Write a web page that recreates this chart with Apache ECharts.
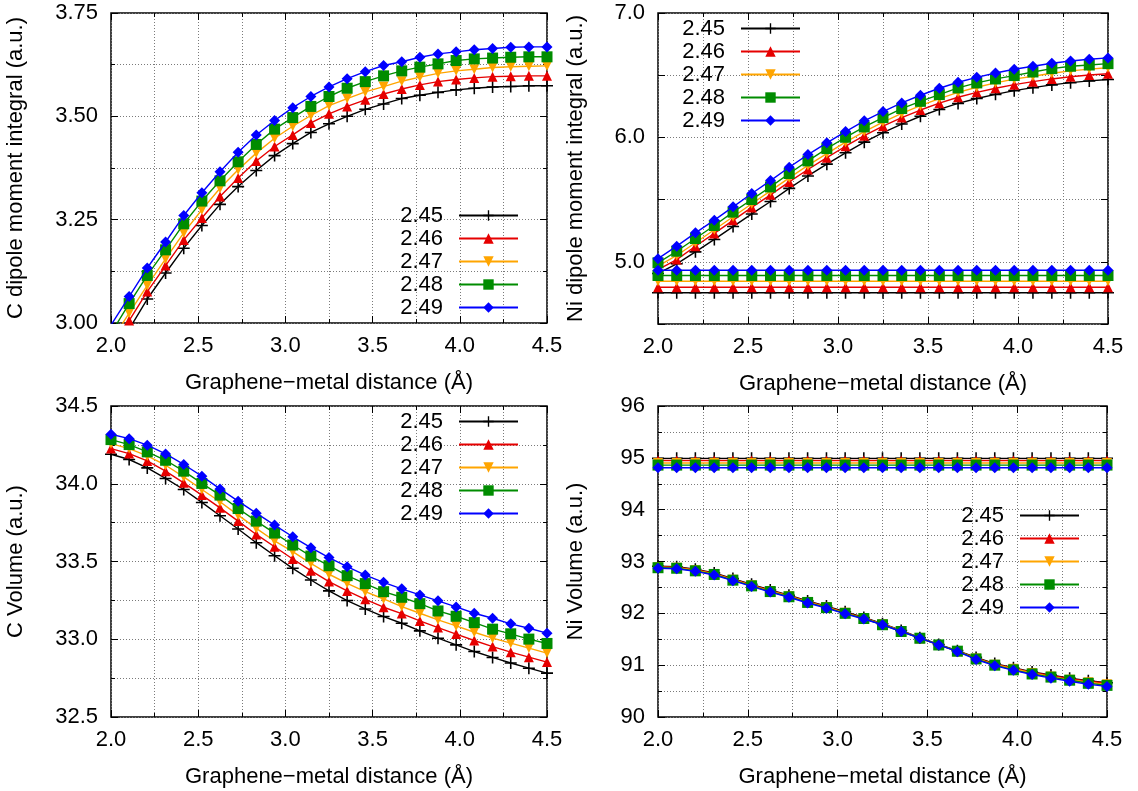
<!DOCTYPE html>
<html>
<head>
<meta charset="utf-8">
<script src="https://cdn.jsdelivr.net/npm/echarts@6/dist/echarts.min.js"></script>
<style>
  html, body { margin: 0; padding: 0; background: #ffffff; }
  #chart { width: 1138px; height: 791px; }
</style>
</head>
<body>
<div id="chart"></div>
<script>
// Graphene–metal distance grid (Å)
const distance = [2.000, 2.104, 2.208, 2.313, 2.417, 2.521, 2.625, 2.729, 2.833, 2.938, 3.042, 3.146, 3.250,
                  3.354, 3.458, 3.563, 3.667, 3.771, 3.875, 3.979, 4.083, 4.188, 4.292, 4.396, 4.500];

// Lattice constants (legend entries)
const latticeNames = ['2.45', '2.46', '2.47', '2.48', '2.49'];

// C dipole moment integral (a.u.)
const cDipole245 = [2.915, 2.985, 3.058, 3.121, 3.181, 3.236, 3.287, 3.330, 3.369, 3.405, 3.434, 3.461, 3.482, 3.500, 3.517, 3.530, 3.543, 3.551, 3.558, 3.564, 3.568, 3.571, 3.572, 3.574, 3.574];
const cDipole246 = [2.935, 3.006, 3.076, 3.139, 3.201, 3.254, 3.306, 3.351, 3.392, 3.427, 3.455, 3.484, 3.506, 3.524, 3.540, 3.554, 3.566, 3.576, 3.584, 3.589, 3.593, 3.596, 3.597, 3.598, 3.598];
const cDipole247 = [2.955, 3.024, 3.091, 3.155, 3.218, 3.274, 3.326, 3.371, 3.411, 3.447, 3.476, 3.502, 3.526, 3.543, 3.559, 3.572, 3.585, 3.595, 3.604, 3.610, 3.614, 3.618, 3.620, 3.621, 3.622];
const cDipole248 = [2.975, 3.047, 3.115, 3.177, 3.240, 3.295, 3.344, 3.390, 3.432, 3.469, 3.497, 3.524, 3.548, 3.568, 3.584, 3.598, 3.610, 3.619, 3.627, 3.635, 3.639, 3.641, 3.643, 3.644, 3.644];
const cDipole249 = [2.995, 3.064, 3.133, 3.196, 3.260, 3.315, 3.366, 3.413, 3.455, 3.490, 3.521, 3.548, 3.571, 3.591, 3.608, 3.623, 3.632, 3.643, 3.651, 3.656, 3.661, 3.664, 3.667, 3.668, 3.668];

// Ni dipole moment integral (a.u.): distance-dependent branch
const niDipole245 = [4.906, 4.984, 5.080, 5.180, 5.283, 5.385, 5.485, 5.590, 5.690, 5.785, 5.876, 5.962, 6.038, 6.107, 6.170, 6.225, 6.273, 6.313, 6.346, 6.376, 6.400, 6.422, 6.440, 6.454, 6.465];
const niDipole246 = [4.938, 5.018, 5.125, 5.228, 5.333, 5.437, 5.538, 5.642, 5.742, 5.837, 5.929, 6.014, 6.090, 6.159, 6.220, 6.275, 6.323, 6.362, 6.395, 6.424, 6.448, 6.470, 6.488, 6.502, 6.512];
const niDipole247 = [4.965, 5.051, 5.153, 5.258, 5.362, 5.467, 5.570, 5.675, 5.775, 5.870, 5.962, 6.047, 6.123, 6.193, 6.255, 6.312, 6.362, 6.403, 6.438, 6.468, 6.492, 6.516, 6.535, 6.549, 6.560];
const niDipole248 = [4.992, 5.085, 5.187, 5.292, 5.399, 5.501, 5.602, 5.710, 5.811, 5.910, 6.001, 6.084, 6.159, 6.232, 6.290, 6.344, 6.398, 6.438, 6.470, 6.497, 6.526, 6.553, 6.572, 6.582, 6.593];
const niDipole249 = [5.025, 5.126, 5.233, 5.335, 5.442, 5.549, 5.653, 5.760, 5.862, 5.956, 6.047, 6.133, 6.208, 6.277, 6.339, 6.395, 6.443, 6.483, 6.518, 6.548, 6.572, 6.596, 6.614, 6.628, 6.639];
// Ni dipole moment integral (a.u.): bulk reference branch
const niDipoleBulk245 = [4.751, 4.751, 4.751, 4.751, 4.751, 4.751, 4.751, 4.751, 4.751, 4.751, 4.751, 4.751, 4.751, 4.751, 4.751, 4.751, 4.751, 4.751, 4.751, 4.751, 4.751, 4.751, 4.751, 4.751, 4.751];
const niDipoleBulk246 = [4.796, 4.796, 4.796, 4.796, 4.796, 4.796, 4.796, 4.796, 4.796, 4.796, 4.796, 4.796, 4.796, 4.796, 4.796, 4.796, 4.796, 4.796, 4.796, 4.796, 4.796, 4.796, 4.796, 4.796, 4.796];
const niDipoleBulk247 = [4.844, 4.844, 4.844, 4.844, 4.844, 4.844, 4.844, 4.844, 4.844, 4.844, 4.844, 4.844, 4.844, 4.844, 4.844, 4.844, 4.844, 4.844, 4.844, 4.844, 4.844, 4.844, 4.844, 4.844, 4.844];
const niDipoleBulk248 = [4.890, 4.890, 4.890, 4.890, 4.890, 4.890, 4.890, 4.890, 4.890, 4.890, 4.890, 4.890, 4.890, 4.890, 4.890, 4.890, 4.890, 4.890, 4.890, 4.890, 4.890, 4.890, 4.890, 4.890, 4.890];
const niDipoleBulk249 = [4.932, 4.932, 4.932, 4.932, 4.932, 4.932, 4.932, 4.932, 4.932, 4.932, 4.932, 4.932, 4.932, 4.932, 4.932, 4.932, 4.932, 4.932, 4.932, 4.932, 4.932, 4.932, 4.932, 4.932, 4.932];

// C volume (a.u.)
const cVolume245 = [34.190, 34.156, 34.102, 34.034, 33.963, 33.880, 33.794, 33.709, 33.621, 33.537, 33.456, 33.381, 33.311, 33.249, 33.195, 33.146, 33.103, 33.054, 33.007, 32.964, 32.921, 32.883, 32.847, 32.814, 32.782];
const cVolume246 = [34.226, 34.194, 34.147, 34.081, 34.006, 33.927, 33.845, 33.760, 33.674, 33.595, 33.516, 33.441, 33.371, 33.311, 33.257, 33.206, 33.165, 33.118, 33.075, 33.033, 32.992, 32.953, 32.917, 32.885, 32.853];
const cVolume247 = [34.258, 34.226, 34.179, 34.119, 34.044, 33.963, 33.884, 33.798, 33.713, 33.632, 33.563, 33.488, 33.418, 33.360, 33.306, 33.259, 33.210, 33.167, 33.125, 33.086, 33.045, 33.007, 32.975, 32.943, 32.911];
const cVolume248 = [34.284, 34.252, 34.205, 34.151, 34.081, 34.002, 33.927, 33.841, 33.760, 33.683, 33.606, 33.535, 33.473, 33.409, 33.358, 33.306, 33.270, 33.229, 33.182, 33.148, 33.107, 33.065, 33.035, 33.001, 32.973];
const cVolume249 = [34.318, 34.290, 34.248, 34.192, 34.124, 34.049, 33.967, 33.888, 33.811, 33.734, 33.659, 33.589, 33.525, 33.467, 33.413, 33.366, 33.324, 33.285, 33.247, 33.208, 33.167, 33.135, 33.099, 33.071, 33.039];

// Ni volume (a.u.): distance-dependent branch
const niVolume245 = [92.91, 92.90, 92.85, 92.78, 92.67, 92.56, 92.45, 92.35, 92.24, 92.14, 92.03, 91.92, 91.80, 91.67, 91.53, 91.40, 91.28, 91.15, 91.03, 90.95, 90.87, 90.81, 90.75, 90.70, 90.66];
const niVolume246 = [92.90, 92.89, 92.84, 92.77, 92.66, 92.55, 92.44, 92.34, 92.23, 92.13, 92.02, 91.91, 91.79, 91.66, 91.52, 91.39, 91.27, 91.14, 91.02, 90.94, 90.86, 90.80, 90.74, 90.69, 90.65];
const niVolume247 = [92.89, 92.88, 92.83, 92.76, 92.65, 92.54, 92.43, 92.33, 92.22, 92.12, 92.01, 91.90, 91.79, 91.66, 91.52, 91.39, 91.27, 91.13, 91.01, 90.93, 90.85, 90.78, 90.72, 90.67, 90.63];
const niVolume248 = [92.88, 92.87, 92.82, 92.75, 92.64, 92.53, 92.42, 92.32, 92.21, 92.11, 92.00, 91.90, 91.78, 91.65, 91.52, 91.39, 91.27, 91.12, 91.00, 90.91, 90.83, 90.77, 90.71, 90.65, 90.61];
const niVolume249 = [92.87, 92.86, 92.81, 92.74, 92.63, 92.52, 92.41, 92.31, 92.20, 92.10, 91.99, 91.89, 91.78, 91.65, 91.52, 91.39, 91.26, 91.11, 90.99, 90.90, 90.82, 90.75, 90.69, 90.63, 90.59];
// Ni volume (a.u.): bulk reference branch
const niVolumeBulk245 = [94.99, 94.99, 94.99, 94.99, 94.99, 94.99, 94.99, 94.99, 94.99, 94.99, 94.99, 94.99, 94.99, 94.99, 94.99, 94.99, 94.99, 94.99, 94.99, 94.99, 94.99, 94.99, 94.99, 94.99, 94.99];
const niVolumeBulk246 = [94.95, 94.95, 94.95, 94.95, 94.95, 94.95, 94.95, 94.95, 94.95, 94.95, 94.95, 94.95, 94.95, 94.95, 94.95, 94.95, 94.95, 94.95, 94.95, 94.95, 94.95, 94.95, 94.95, 94.95, 94.95];
const niVolumeBulk247 = [94.90, 94.90, 94.90, 94.90, 94.90, 94.90, 94.90, 94.90, 94.90, 94.90, 94.90, 94.90, 94.90, 94.90, 94.90, 94.90, 94.90, 94.90, 94.90, 94.90, 94.90, 94.90, 94.90, 94.90, 94.90];
const niVolumeBulk248 = [94.86, 94.86, 94.86, 94.86, 94.86, 94.86, 94.86, 94.86, 94.86, 94.86, 94.86, 94.86, 94.86, 94.86, 94.86, 94.86, 94.86, 94.86, 94.86, 94.86, 94.86, 94.86, 94.86, 94.86, 94.86];
const niVolumeBulk249 = [94.81, 94.81, 94.81, 94.81, 94.81, 94.81, 94.81, 94.81, 94.81, 94.81, 94.81, 94.81, 94.81, 94.81, 94.81, 94.81, 94.81, 94.81, 94.81, 94.81, 94.81, 94.81, 94.81, 94.81, 94.81];

// Axis labels
const xTitle = 'Graphene\u2212metal distance (Å)';
const yTitles = ['C dipole moment integral (a.u.)', 'Ni dipole moment integral (a.u.)', 'C Volume (a.u.)', 'Ni Volume (a.u.)'];

// Per-lattice-constant styling
const PLUS = 'path://M4.35,0H5.65V4.35H10V5.65H5.65V10H4.35V5.65H0V4.35H4.35Z';
const styles = [
  { color: '#000000', symbol: PLUS,       size: 12, rotate: 0 },
  { color: '#e60000', symbol: 'triangle', size: 10, rotate: 0 },
  { color: '#ffa500', symbol: 'triangle', size: 10, rotate: 180 },
  { color: '#008c00', symbol: 'rect',     size: 11, rotate: 0 },
  { color: '#0000ff', symbol: 'diamond',  size: 11, rotate: 0 }
];

const FONT = "'Liberation Sans', Arial, Helvetica, sans-serif";
const FS = 22;

const panels = [
  { left: 111, right: 591, top: 13, bottom: 468, yMin: 3.0, yMax: 3.75, yStep: 0.25, minor: 2, labelStep: 0.25, digits: 2, nameGap: 84,
    sets: [[cDipole245, cDipole246, cDipole247, cDipole248, cDipole249]],
    legend: { right: 619, top: 204 } },
  { left: 658, right: 30, top: 13, bottom: 467, yMin: 4.5, yMax: 7.0, yStep: 0.5, minor: 0, labelStep: 1, digits: 1, nameGap: 71,
    sets: [[niDipole245, niDipole246, niDipole247, niDipole248, niDipole249],
           [niDipoleBulk245, niDipoleBulk246, niDipoleBulk247, niDipoleBulk248, niDipoleBulk249]],
    legend: { right: 337, top: 17 } },
  { left: 111, right: 591, top: 406, bottom: 74, yMin: 32.5, yMax: 34.5, yStep: 0.5, minor: 2, labelStep: 0.5, digits: 1, nameGap: 84,
    sets: [[cVolume245, cVolume246, cVolume247, cVolume248, cVolume249]],
    legend: { right: 619, top: 410 } },
  { left: 658, right: 31, top: 406, bottom: 74, yMin: 90, yMax: 96, yStep: 1, minor: 2, labelStep: 1, digits: 0, nameGap: 71,
    sets: [[niVolume245, niVolume246, niVolume247, niVolume248, niVolume249],
           [niVolumeBulk245, niVolumeBulk246, niVolumeBulk247, niVolumeBulk248, niVolumeBulk249]],
    legend: { right: 58, top: 504 } }
];

const isMultiple = (v, step) => Math.abs(v / step - Math.round(v / step)) < 1e-6;
const gridLine = { show: true, lineStyle: { color: '#7a7a7a', width: 1, type: [1, 2] } };

const grid = [], xAxis = [], yAxis = [], series = [], legend = [];

panels.forEach((p, i) => {
  grid.push({ left: p.left, right: p.right, top: p.top, bottom: p.bottom, containLabel: false,
              show: true, borderColor: '#000', borderWidth: 1.5, backgroundColor: 'transparent' });

  const xCommon = {
    type: 'value', gridIndex: i, min: 2.0, max: 4.5, interval: 0.5,
    axisLine: { show: false },
    axisTick: { show: true, inside: true, length: 7, lineStyle: { color: '#000' } },
    minorTick: { show: true, splitNumber: 2, length: 4, lineStyle: { color: '#000' } }
  };
  xAxis.push(Object.assign({}, xCommon, {
    position: 'bottom',
    name: xTitle, nameLocation: 'middle', nameGap: 49,
    nameTextStyle: { fontSize: FS, color: '#000', fontFamily: FONT },
    axisLabel: { show: true, fontSize: FS, color: '#000', fontFamily: FONT, margin: 12, formatter: v => v.toFixed(1) },
    splitLine: gridLine,
    minorSplitLine: gridLine
  }));
  xAxis.push(Object.assign({}, xCommon, {
    position: 'top', axisLabel: { show: false }, splitLine: { show: false }, minorSplitLine: { show: false }
  }));

  const yCommon = {
    type: 'value', gridIndex: i, min: p.yMin, max: p.yMax, interval: p.yStep,
    axisLine: { show: false },
    axisTick: { show: true, inside: true, length: 7, lineStyle: { color: '#000' } },
    minorTick: { show: p.minor > 0, splitNumber: p.minor || 2, length: 4, lineStyle: { color: '#000' } }
  };
  yAxis.push(Object.assign({}, yCommon, {
    position: 'left',
    name: yTitles[i], nameLocation: 'middle', nameGap: p.nameGap,
    nameTextStyle: { fontSize: FS, color: '#000', fontFamily: FONT },
    axisLabel: { show: true, fontSize: FS, color: '#000', fontFamily: FONT, margin: 13,
                 formatter: v => isMultiple(v, p.labelStep) ? v.toFixed(p.digits) : '' },
    splitLine: gridLine,
    minorSplitLine: Object.assign({}, gridLine, { show: p.minor > 0 })
  }));
  yAxis.push(Object.assign({}, yCommon, {
    position: 'right', axisLabel: { show: false }, splitLine: { show: false }, minorSplitLine: { show: false }
  }));

  p.sets.forEach(set => {
    set.forEach((values, k) => {
      const s = styles[k];
      series.push({
        type: 'line',
        name: latticeNames[k],
        xAxisIndex: 2 * i, yAxisIndex: 2 * i,
        data: distance.map((x, j) => [x, values[j]]),
        symbol: s.symbol, symbolSize: s.size, symbolRotate: s.rotate,
        showAllSymbol: true,
        clip: true,
        lineStyle: { color: s.color, width: 1.4 },
        itemStyle: { color: s.color, borderWidth: 0 },
        emphasis: { disabled: true },
        z: 2 + k
      });
    });
  });

  legend.push({
    orient: 'vertical', right: p.legend.right, top: p.legend.top,
    align: 'right', padding: 0, itemGap: 0,
    itemWidth: 59, itemHeight: 13,
    selectedMode: false,
    data: latticeNames,
    textStyle: { fontSize: FS, color: '#000', fontFamily: FONT, lineHeight: 23, padding: [0, 11, 0, 0] }
  });
});

const chart = echarts.init(document.getElementById('chart'), null, { renderer: 'canvas' });
chart.setOption({
  animation: false,
  backgroundColor: '#ffffff',
  textStyle: { fontFamily: FONT },
  grid, xAxis, yAxis, series, legend
});
</script>
</body>
</html>
